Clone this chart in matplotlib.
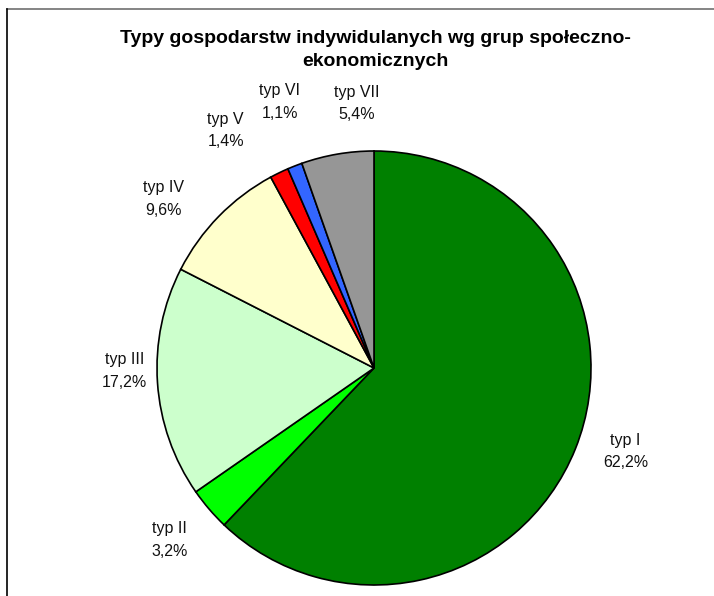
import matplotlib
matplotlib.use('Agg')
import matplotlib.pyplot as plt
from matplotlib.lines import Line2D
import numpy as np

plt.rcParams['font.family'] = ['Liberation Sans', 'DejaVu Sans']

# data
labels = ['typ I', 'typ II', 'typ III', 'typ IV', 'typ V', 'typ VI', 'typ VII']
values = [62.2, 3.2, 17.2, 9.6, 1.4, 1.1, 5.4]
colors = ['#008000', '#00FF00', '#CCFFCC', '#FFFFCC', '#FF0000', '#3366FF', '#969696']
title = 'Typy gospodarstw indywidulanych wg grup społeczno-\nekonomicznych'

# label positions (angle in deg, distance in radii)
label_pos = [(-18.3, 1.22), (220.1, 1.23), (180.7, 1.15), (141.3, 1.245),
             (122.0, 1.29), (109.5, 1.30), (93.7, 1.22)]

W, H = 714, 596
cx, cy, R = 374, 368, 217

fig = plt.figure(figsize=(W / 100, H / 100), dpi=100)
ax = fig.add_axes([0, 0, 1, 1])

ax.pie(values, colors=colors, startangle=90, counterclock=False,
       wedgeprops=dict(edgecolor='black', linewidth=1.2))

for lab, v, (ang, d) in zip(labels, values, label_pos):
    a = np.radians(ang)
    txt = lab + '\n' + ('%.1f%%' % v).replace('.', ',')
    ax.text(d * np.cos(a), d * np.sin(a), txt, ha='center', va='center',
            fontsize=11.5, linespacing=1.6, color='#111111')

ax.set_xlim(-cx / R, (W - cx) / R)
ax.set_ylim((cy - H) / R, cy / R)
ax.set_aspect('auto')
ax.axis('off')

fig.text(375 / W, 1 - 50 / H, title, ha='center', va='center',
         fontsize=14, fontweight='bold', linespacing=1.5)

# frame of the chart area (runs off right and bottom)
fig.add_artist(Line2D([7 / W, 1], [1 - 9 / H, 1 - 9 / H], color='#707070', lw=1.2))
fig.add_artist(Line2D([7 / W, 7 / W], [0, 1 - 9 / H], color='black', lw=1.2))

fig.savefig('out.png', dpi=100)
